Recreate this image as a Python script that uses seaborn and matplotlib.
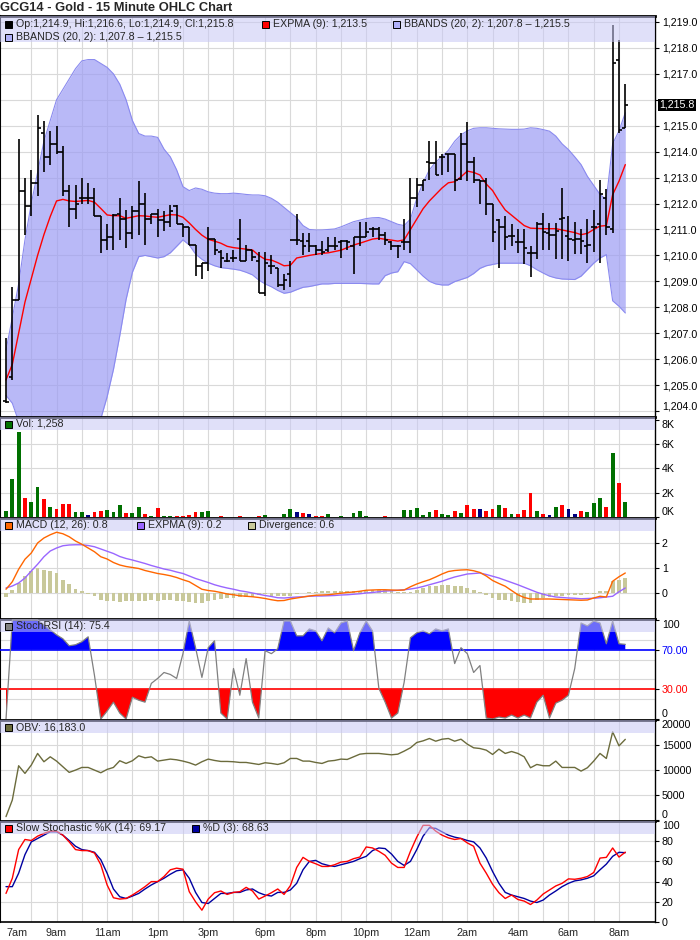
import numpy as np
import matplotlib
matplotlib.use("Agg")
import matplotlib.pyplot as plt
import matplotlib.transforms as mtransforms
from matplotlib.patches import Rectangle
import seaborn as sns

sns.set_style("white")
plt.rcParams['font.family'] = ['Liberation Sans', 'DejaVu Sans']

#--Price bars (15 minute OHLC)--#
opens = [1204.4, 1205.3, 1208.3, 1212.5, 1211.9, 1212.8, 1214.7, 1213.8, 1214.3, 1214.0,
         1212.5, 1211.8, 1212.2, 1212.2, 1212.2, 1211.5, 1210.6, 1210.7, 1211.6, 1211.4,
         1210.85, 1211.7, 1212.0, 1211.4, 1211.6, 1211.35, 1211.3, 1211.9, 1211.2, 1211.1,
         1210.4, 1209.6, 1209.7, 1210.65, 1210.15, 1209.8, 1209.9, 1210.65, 1209.8, 1210.2,
         1209.8, 1208.55, 1209.6, 1209.5, 1208.85, 1209.3, 1210.6, 1210.55, 1210.55, 1210.35,
         1210.2, 1210.2, 1210.35, 1210.5, 1210.55, 1210.35, 1210.7, 1210.7, 1211.0, 1211.0,
         1210.8, 1210.5, 1210.35, 1210.5, 1210.5, 1212.2, 1212.7, 1213.6, 1213.55, 1213.8,
         1213.9, 1213.9, 1212.95, 1214.3, 1213.6, 1212.9, 1212.85, 1212.0, 1211.35, 1211.1,
         1210.75, 1210.5, 1210.5, 1210.1, 1210.1, 1211.2, 1210.85, 1210.8, 1211.4, 1210.75,
         1210.6, 1210.65, 1210.35, 1211.1, 1211.2, 1212.2, 1211.0, 1217.55, 1214.9]
highs = [1206.8, 1208.8, 1214.5, 1213.0, 1213.3, 1215.4, 1215.2, 1214.8, 1215.0, 1214.2,
         1212.7, 1212.7, 1213.0, 1212.8, 1212.6, 1211.5, 1211.2, 1211.6, 1212.2, 1211.75,
         1211.9, 1212.85, 1212.4, 1211.6, 1211.8, 1211.7, 1211.95, 1211.95, 1211.2, 1211.1,
         1210.4, 1209.7, 1211.1, 1210.65, 1210.2, 1210.1, 1210.2, 1211.4, 1210.4, 1210.2,
         1210.15, 1210.15, 1210.0, 1209.5, 1209.3, 1209.8, 1211.6, 1210.85, 1210.85, 1210.4,
         1210.55, 1210.7, 1210.7, 1210.6, 1210.6, 1210.7, 1211.3, 1211.3, 1211.1, 1211.1,
         1210.9, 1210.55, 1210.4, 1211.4, 1213.0, 1213.0, 1212.9, 1214.4, 1214.4, 1213.9,
         1213.9, 1213.9, 1214.7, 1215.15, 1213.8, 1212.9, 1213.0, 1212.0, 1211.4, 1211.5,
         1211.2, 1211.0, 1211.0, 1210.35, 1211.3, 1211.65, 1211.25, 1211.25, 1212.6, 1211.5,
         1211.3, 1211.0, 1211.4, 1211.75, 1212.9, 1212.55, 1218.9, 1218.3, 1216.6]
lows = [1204.3, 1205.2, 1208.3, 1210.8, 1211.5, 1212.3, 1213.2, 1213.5, 1213.9, 1212.3,
        1211.1, 1211.4, 1212.0, 1212.0, 1211.5, 1210.1, 1210.2, 1210.2, 1210.6, 1210.3,
        1210.65, 1210.8, 1210.4, 1211.2, 1210.7, 1210.95, 1211.1, 1211.2, 1210.7, 1210.4,
        1209.2, 1209.1, 1209.4, 1210.0, 1209.5, 1209.75, 1209.75, 1209.8, 1209.8, 1209.8,
        1208.55, 1208.45, 1209.3, 1208.8, 1208.65, 1208.8, 1210.4, 1210.0, 1210.15, 1210.0,
        1210.0, 1210.15, 1210.2, 1209.9, 1210.2, 1209.3, 1210.35, 1210.7, 1210.7, 1210.6,
        1210.4, 1210.2, 1209.9, 1210.2, 1210.1, 1211.85, 1212.5, 1212.9, 1213.1, 1213.1,
        1213.2, 1212.5, 1212.9, 1212.85, 1212.8, 1212.0, 1211.55, 1210.5, 1209.5, 1210.2,
        1210.35, 1210.1, 1209.65, 1209.15, 1209.85, 1210.2, 1210.2, 1209.85, 1209.85, 1209.8,
        1210.05, 1210.05, 1209.7, 1210.15, 1209.7, 1210.8, 1210.85, 1214.7, 1214.9]
closes = [1204.35, 1208.3, 1212.5, 1211.9, 1212.8, 1214.9, 1213.8, 1214.3, 1214.0, 1212.5,
          1211.8, 1212.0, 1212.2, 1212.2, 1211.5, 1210.6, 1210.7, 1211.55, 1211.4, 1210.85,
          1211.7, 1212.0, 1211.4, 1211.6, 1211.35, 1211.3, 1211.7, 1211.2, 1211.1, 1210.4,
          1209.6, 1209.7, 1210.65, 1210.2, 1209.9, 1209.8, 1209.9, 1209.8, 1210.2, 1209.95,
          1208.55, 1209.7, 1209.6, 1208.85, 1209.05, 1210.6, 1210.6, 1210.35, 1210.35, 1210.2,
          1210.15, 1210.35, 1210.35, 1210.55, 1210.5, 1210.7, 1210.7, 1210.9, 1211.0, 1210.8,
          1210.6, 1210.35, 1210.35, 1210.5, 1212.2, 1212.7, 1212.9, 1213.55, 1213.1, 1213.8,
          1213.9, 1212.9, 1214.3, 1213.6, 1212.9, 1212.85, 1212.0, 1210.9, 1211.1, 1210.7,
          1210.75, 1210.5, 1210.3, 1210.1, 1211.2, 1210.9, 1210.8, 1210.95, 1211.45, 1210.65,
          1210.65, 1210.55, 1210.4, 1211.1, 1212.35, 1211.1, 1217.4, 1214.85, 1215.8]

#--Overlays--#
expma = [1205.2, 1205.8, 1207.0, 1208.2, 1209.1, 1210.0, 1210.8, 1211.5, 1212.1, 1212.16,
         1212.1, 1212.08, 1212.1, 1212.12, 1212.05, 1211.81, 1211.56, 1211.53, 1211.53, 1211.43,
         1211.48, 1211.53, 1211.52, 1211.49, 1211.47, 1211.52, 1211.57, 1211.56, 1211.47, 1211.25,
         1211.0, 1210.78, 1210.62, 1210.55, 1210.47, 1210.35, 1210.3, 1210.27, 1210.24, 1210.21,
         1210.0, 1209.85, 1209.82, 1209.72, 1209.6, 1209.62, 1209.9, 1209.95, 1210.0, 1210.04,
         1210.08, 1210.1, 1210.15, 1210.2, 1210.3, 1210.4, 1210.47, 1210.55, 1210.63, 1210.66,
         1210.62, 1210.59, 1210.55, 1210.6, 1211.0, 1211.4, 1211.8, 1212.1, 1212.35, 1212.6,
         1212.8, 1212.84, 1213.03, 1213.25, 1213.2, 1213.1, 1212.75, 1212.5, 1212.1, 1211.75,
         1211.55, 1211.35, 1211.15, 1211.05, 1211.04, 1211.03, 1211.03, 1211.03, 1210.98, 1210.93,
         1210.88, 1210.8, 1210.85, 1211.0, 1211.13, 1211.15, 1212.34, 1212.86, 1213.5]
bb_upper = [1206.35, 1207.6, 1208.9, 1210.6, 1212.0, 1213.2, 1214.4, 1215.2, 1216.0, 1216.4,
            1216.8, 1217.2, 1217.5, 1217.55, 1217.55, 1217.4, 1217.25, 1217.0, 1216.6, 1216.0,
            1215.2, 1214.7, 1214.6, 1214.6, 1214.55, 1214.1, 1213.8, 1213.3, 1212.65, 1212.5,
            1212.6, 1212.55, 1212.45, 1212.4, 1212.38, 1212.38, 1212.4, 1212.38, 1212.35, 1212.33,
            1212.33, 1212.3, 1212.2, 1212.05, 1211.85, 1211.65, 1211.45, 1211.15, 1211.0, 1210.98,
            1210.98, 1211.0, 1211.02, 1211.1, 1211.2, 1211.3, 1211.36, 1211.42, 1211.45, 1211.46,
            1211.4, 1211.3, 1211.2, 1211.15, 1211.4, 1212.2, 1212.8, 1213.3, 1213.6, 1213.81,
            1214.05, 1214.4, 1214.65, 1214.8, 1214.9, 1214.92, 1214.92, 1214.9, 1214.88, 1214.87,
            1214.86, 1214.86, 1214.87, 1214.92, 1214.9, 1214.85, 1214.79, 1214.6, 1214.3, 1214.08,
            1213.8, 1213.5, 1213.05, 1212.7, 1212.35, 1212.15, 1214.3, 1214.8, 1215.5]
bb_lower = [1204.6, 1204.3, 1203.6, 1203.0, 1202.6, 1202.3, 1202.0, 1201.9, 1201.8, 1201.8,
            1201.9, 1202.1, 1202.5, 1202.9, 1203.3, 1203.7, 1204.55, 1205.6, 1206.9, 1208.3,
            1209.35, 1209.95, 1210.0, 1209.95, 1209.9, 1209.95, 1210.1, 1210.35, 1210.6, 1210.4,
            1210.05, 1209.85, 1209.7, 1209.6, 1209.53, 1209.5, 1209.47, 1209.43, 1209.35, 1209.25,
            1209.05, 1208.9, 1208.79, 1208.65, 1208.54, 1208.58, 1208.68, 1208.77, 1208.8, 1208.85,
            1208.9, 1208.9, 1208.92, 1208.92, 1208.92, 1208.92, 1208.92, 1208.91, 1208.9, 1208.9,
            1209.22, 1209.32, 1209.37, 1209.76, 1209.68, 1209.44, 1209.2, 1209.0, 1208.9, 1208.86,
            1208.86, 1208.99, 1209.07, 1209.15, 1209.3, 1209.5, 1209.6, 1209.65, 1209.7, 1209.7,
            1209.7, 1209.7, 1209.7, 1209.6, 1209.45, 1209.32, 1209.2, 1209.13, 1209.09, 1209.08,
            1209.07, 1209.2, 1209.45, 1209.7, 1209.9, 1210.03, 1208.25, 1208.04, 1207.78]

#--Volume in thousands, g=up r=down b=unchanged--#
volume_k = [0.49, 3.1, 7.0, 1.54, 1.2, 2.5, 1.46, 0.8, 0.65, 1.05,
            1.05, 0.4, 0.4, 0.2, 0.4, 0.5, 0.55, 0.4, 0.97, 0.35,
            0.35, 0.8, 0.25, 0.05, 0.73, 0.1, 0.05, 0.05, 0.12, 0.17,
            0.38, 0.38, 0.46, 0.03, 0.1, 0.03, 0.03, 0.12, 0.03, 0.03,
            0.12, 0.17, 0.03, 0.03, 0.27, 0.62, 0.4, 0.35, 0.27, 0.12,
            0.12, 0.25, 0.03, 0.1, 0.03, 0.35, 0.49, 0.1, 0.03, 0.03,
            0.1, 0.03, 0.03, 0.57, 0.57, 0.73, 0.2, 0.38, 0.57, 0.22,
            0.2, 0.46, 0.32, 0.97, 0.65, 0.65, 0.49, 0.62, 0.97, 0.78,
            0.27, 0.25, 0.57, 1.95, 0.46, 0.25, 0.17, 0.8, 1.03, 0.65,
            0.25, 0.49, 0.4, 1.13, 1.54, 0.84, 5.27, 2.76, 1.26]
volume_dir = ("gggrggrgrr" "rggbrrgggr" "ggrgrggrrr" "rgggrgrrgr" "rgrgggbrbr"
              "rgrgggggrg" "rgrgggggrg" "grgrrbrrgr" "grrrgrbgrb" "brgggrgrg")

#--MACD (12, 26)--#
macd = [0.15, 0.45, 0.95, 1.35, 1.6, 2.0, 2.2, 2.33, 2.43, 2.37,
        2.25, 2.08, 1.95, 1.8, 1.65, 1.45, 1.36, 1.22, 1.12, 1.06,
        1.02, 0.98, 0.9, 0.84, 0.78, 0.74, 0.69, 0.62, 0.53, 0.45,
        0.3, 0.15, 0.1, 0.07, 0.02, -0.04, -0.07, -0.11, -0.13, -0.15,
        -0.18, -0.22, -0.27, -0.31, -0.3, -0.24, -0.2, -0.16, -0.12, -0.09,
        -0.08, -0.07, -0.04, -0.01, 0.02, 0.04, 0.07, 0.11, 0.12, 0.13,
        0.13, 0.12, 0.11, 0.12, 0.25, 0.36, 0.45, 0.53, 0.64, 0.76,
        0.86, 0.9, 0.92, 0.93, 0.89, 0.82, 0.68, 0.5, 0.38, 0.27,
        0.1, -0.07, -0.18, -0.24, -0.24, -0.24, -0.24, -0.25, -0.26, -0.27,
        -0.28, -0.29, -0.28, -0.2, -0.13, -0.16, 0.47, 0.65, 0.8]
macd_signal = [0.2, 0.28, 0.4, 0.6, 0.88, 1.15, 1.45, 1.68, 1.8, 1.89,
               1.92, 1.93, 1.93, 1.9, 1.85, 1.76, 1.67, 1.58, 1.46, 1.38,
               1.32, 1.25, 1.18, 1.1, 1.03, 0.96, 0.91, 0.84, 0.78, 0.68,
               0.58, 0.5, 0.42, 0.33, 0.26, 0.2, 0.15, 0.09, 0.05, 0.0,
               -0.05, -0.1, -0.14, -0.19, -0.2, -0.18, -0.16, -0.15, -0.13, -0.12,
               -0.12, -0.11, -0.1, -0.08, -0.07, -0.05, -0.03, 0.0, 0.02, 0.05,
               0.08, 0.09, 0.11, 0.13, 0.16, 0.2, 0.26, 0.33, 0.4, 0.47,
               0.56, 0.64, 0.7, 0.76, 0.78, 0.8, 0.74, 0.67, 0.6, 0.51,
               0.42, 0.33, 0.23, 0.13, 0.03, -0.05, -0.11, -0.16, -0.18, -0.2,
               -0.21, -0.23, -0.22, -0.21, -0.19, -0.16, -0.13, 0.05, 0.2]
divergence = [-0.15, 0.13, 0.4, 0.67, 0.87, 1.0, 0.93, 0.87, 0.8, 0.53,
              0.37, 0.16, 0.1, -0.05, -0.13, -0.27, -0.33, -0.33, -0.37, -0.33,
              -0.33, -0.33, -0.3, -0.27, -0.3, -0.27, -0.27, -0.3, -0.33, -0.35,
              -0.4, -0.4, -0.33, -0.27, -0.23, -0.2, -0.2, -0.16, -0.16, -0.16,
              -0.07, -0.05, -0.1, -0.13, -0.13, -0.1, -0.04, 0.0, 0.04, 0.05,
              0.07, 0.07, 0.07, 0.07, 0.07, 0.08, 0.07, 0.1, 0.13, 0.13,
              0.11, 0.07, 0.05, 0.03, 0.05, 0.13, 0.2, 0.27, 0.3, 0.33,
              0.33, 0.27, 0.27, 0.2, 0.13, 0.05, -0.07, -0.2, -0.27, -0.27,
              -0.33, -0.37, -0.4, -0.4, -0.27, -0.2, -0.17, -0.13, -0.1, -0.07,
              -0.07, -0.07, -0.05, -0.03, 0.07, 0.07, 0.47, 0.53, 0.6]

#--StochRSI (14)--#
stoch_rsi = [0, 100, 100, 100, 100, 100, 95, 90, 85, 81,
             74, 75, 78, 83, 44, 0, 8, 17, 6, 0,
             22, 19, 17, 36, 41, 47, 45, 41, 66, 99,
             72, 42, 72, 79, 6, 0, 51, 24, 61, 17,
             1, 69, 66, 71, 99, 99, 84, 84, 91, 89,
             79, 92, 87, 97, 99, 69, 87, 99, 89, 31,
             17, 1, 6, 37, 82, 87, 89, 86, 91, 89,
             91, 56, 72, 66, 47, 54, 1, 0, 2, 1,
             4, 1, 4, 1, 17, 24, 1, 16, 19, 24,
             51, 97, 94, 99, 97, 76, 99, 76, 75.4]

#--On balance volume--#
obv = [730, 4050, 10900, 9370, 11030, 13360, 11700, 12690, 11830, 10700,
       9570, 10030, 10560, 10560, 10030, 9500, 10170, 10560, 11900, 11360,
       11900, 12890, 12490, 12690, 11830, 12030, 12230, 12090, 11830, 11500,
       11030, 11700, 12230, 11960, 11760, 11760, 11700, 11560, 11560, 11360,
       11160, 11500, 11360, 11160, 11500, 12360, 12360, 11830, 11830, 11560,
       11360, 11830, 11960, 12230, 12160, 12690, 13220, 13360, 13360, 13360,
       13220, 13090, 13220, 13820, 14490, 15550, 15880, 16350, 15810, 16210,
       16350, 15810, 16210, 15220, 14490, 14350, 14020, 13160, 14220, 13360,
       13750, 13360, 12690, 10500, 11160, 10900, 10900, 11830, 10560, 10560,
       10560, 9830, 10500, 11830, 13360, 12360, 17670, 14880, 16183]

#--Slow stochastic--#
pct_k = [28.3, 43.3, 71.7, 81.7, 80.7, 85.0, 87.7, 90.0, 90.0, 86.0,
         79.3, 71.7, 70.7, 70.7, 68.3, 56.7, 36.7, 24.0, 22.7, 23.3,
         26.7, 30.7, 35.0, 40.0, 40.0, 45.0, 51.7, 53.3, 52.3, 30.0,
         20.0, 11.7, 22.7, 29.0, 30.7, 27.3, 29.3, 30.0, 34.3, 30.7,
         22.7, 25.7, 29.0, 32.7, 27.3, 36.0, 54.0, 64.0, 60.0, 57.7,
         55.0, 55.0, 56.7, 59.3, 60.0, 62.7, 64.3, 74.3, 73.3, 70.0,
         66.0, 58.3, 54.0, 54.0, 70.0, 84.0, 95.7, 95.7, 90.0, 86.0,
         83.3, 81.7, 82.7, 78.3, 75.0, 58.3, 48.3, 37.3, 29.0, 23.3,
         26.7, 22.3, 20.7, 17.3, 21.7, 27.7, 31.7, 35.7, 38.3, 42.7,
         42.3, 43.3, 45.0, 49.0, 63.3, 64.0, 73.3, 64.3, 69.17]
pct_d = [35.0, 35.0, 48.3, 66.7, 79.3, 82.7, 86.0, 89.3, 89.3, 86.0,
         80.7, 75.0, 71.7, 70.7, 69.0, 61.7, 48.3, 32.7, 25.0, 23.3,
         25.7, 28.3, 32.7, 36.7, 40.0, 43.3, 47.3, 50.7, 51.7, 43.3,
         29.3, 19.3, 18.3, 23.3, 28.3, 28.3, 29.3, 29.3, 31.7, 32.7,
         29.0, 26.7, 25.7, 29.3, 29.3, 31.7, 38.3, 51.7, 60.0, 61.0,
         57.7, 56.0, 55.0, 56.7, 58.3, 60.0, 62.7, 65.0, 70.7, 73.3,
         72.7, 67.3, 60.0, 56.0, 60.0, 71.7, 85.0, 93.3, 92.7, 89.3,
         86.0, 84.0, 82.7, 80.7, 79.3, 73.3, 63.3, 50.0, 38.3, 29.3,
         26.7, 25.0, 23.3, 20.7, 19.3, 21.7, 26.7, 30.7, 35.0, 38.3,
         40.7, 41.7, 43.3, 45.7, 51.7, 57.3, 65.0, 69.0, 68.63]

#--Time axis--#
time_ticks = [0, 8, 16, 24, 32, 41, 49, 57, 65, 73, 81, 89, 97]
time_labels = ['7am', '9am', '11am', '1pm', '3pm', '6pm', '8pm', '10pm',
               '12am', '2am', '4am', '6am', '8am']
hour_lines = list(range(4, 37, 4)) + list(range(41, 98, 4))

bars = np.arange(len(closes))
GRID = '#d9d9d9'
BAND = '#c8c8f5'
FW, FH = 700, 940
TICK_FS = 7.7
LEG_FS = 7.7

fig = plt.figure(figsize=(7, 9.4), dpi=100)


def make_panel(top, bottom, band_px=13):
    ax = fig.add_axes([0, 1 - bottom / FH, 655 / FW, (bottom - top) / FH])
    ax.set_xlim(-0.95, 102.7)
    ax.set_xticks([])
    for gx in hour_lines:
        ax.axvline(gx, color=GRID, lw=0.8, zorder=0)
    ax.yaxis.tick_right()
    ax.tick_params(axis='y', direction='out', length=3, width=0.8,
                   labelsize=TICK_FS, pad=2, colors='black')
    ax.spines['top'].set_linewidth(2)
    ax.spines['left'].set_linewidth(1.5)
    ax.spines['right'].set_linewidth(1)
    ax.spines['bottom'].set_visible(False)
    for s in ['top', 'left', 'right']:
        ax.spines[s].set_color('black')
    # lavender header strip
    h = band_px / (bottom - top)
    ax.add_patch(Rectangle((0, 1 - h), 1, h, transform=ax.transAxes,
                           facecolor=BAND, alpha=0.55, lw=0, zorder=8))
    return ax


def hgrid(ax, levels):
    for gy in levels:
        ax.axhline(gy, color=GRID, lw=0.8, zorder=0)


def edge_labels(ax, top=False, bottom=False):
    # keep labels that sit on a panel boundary inside their own panel
    labs = ax.get_yticklabels()
    if top:
        labs[-1].set_verticalalignment('top')
    if bottom:
        labs[0].set_verticalalignment('bottom')


def legend_item(x, y, color, text):
    fig.add_artist(Rectangle((x / FW, 1 - (y + 3.5) / FH), 7 / FW, 7 / FH,
                             transform=fig.transFigure, facecolor=color,
                             edgecolor='black', lw=0.7, zorder=20))
    fig.text((x + 11) / FW, 1 - y / FH, text, fontsize=LEG_FS, va='center',
             ha='left', zorder=21)


#--Main price panel--#
ax = make_panel(16, 417, band_px=26)
ax.set_ylim(1203.77, 1219.23)
price_ticks = np.arange(1204, 1220, 1.0)
ax.set_yticks(price_ticks)
ax.set_yticklabels(['' if p == 1216 else f"{p:,.1f}" for p in price_ticks])
edge_labels(ax, bottom=True)
hgrid(ax, price_ticks)
ax.fill_between(bars, bb_lower, bb_upper, color='#9c9cf4', alpha=0.7, lw=0, zorder=1)
sns.lineplot(x=bars, y=bb_upper, ax=ax, color='#8a8aef', lw=0.8, zorder=2)
sns.lineplot(x=bars, y=bb_lower, ax=ax, color='#8a8aef', lw=0.8, zorder=2)
sns.lineplot(x=bars, y=expma, ax=ax, color='#ff0000', lw=1.0, zorder=3)
ax.vlines(bars, lows, highs, color='black', lw=1.2, zorder=4)
ax.hlines(opens, bars - 0.5, bars, color='black', lw=1.2, zorder=4)
ax.hlines(closes, bars, bars + 0.5, color='black', lw=1.2, zorder=4)
ax.set_ylabel('')
trans = mtransforms.blended_transform_factory(ax.transAxes, ax.transData)
ax.text(1.006, closes[-1], f"{closes[-1]:,.1f}", transform=trans, fontsize=TICK_FS,
        color='white', va='center', ha='left', zorder=30,
        bbox=dict(boxstyle='square,pad=0.12', fc='black', ec='none'))
fig.text(0, 1 - 8 / FH, 'GCG14 - Gold - 15 Minute OHLC Chart', fontsize=9.3,
         fontweight='bold', va='center', ha='left')
legend_item(5, 24, 'black', 'Op:1,214.9, Hi:1,216.6, Lo:1,214.9, Cl:1,215.8')
legend_item(262, 24, '#ff0000', 'EXPMA (9): 1,213.5')
legend_item(393, 24, '#b0b0f8', 'BBANDS (20, 2): 1,207.8 \u2013 1,215.5')
legend_item(5, 37, '#b0b0f8', 'BBANDS (20, 2): 1,207.8 \u2013 1,215.5')

#--Volume panel--#
ax = make_panel(417, 518)
ax.set_ylim(-0.08, 8.23)
ax.set_yticks([0, 2, 4, 6, 8])
ax.set_yticklabels(['0K', '2K', '4K', '6K', '8K'])
edge_labels(ax, top=True, bottom=True)
hgrid(ax, [2, 4, 6])
dir_colors = {'g': '#007000', 'r': '#ff0000', 'b': '#000080'}
ax.bar(bars, volume_k, width=0.6, color=[dir_colors[d] for d in volume_dir],
       lw=0, zorder=3)
legend_item(5, 424, '#007000', 'Vol: 1,258')

#--MACD panel--#
ax = make_panel(518, 619)
ax.set_ylim(-1.04, 3.0)
ax.set_yticks([0, 1, 2])
ax.set_yticklabels(['0', '1', '2'])
hgrid(ax, [0, 1, 2])
ax.bar(bars, divergence, width=0.6, color='#c8c89a', lw=0, zorder=2)
sns.lineplot(x=bars, y=macd_signal, ax=ax, color='#9966ff', lw=1.0, zorder=3)
sns.lineplot(x=bars, y=macd, ax=ax, color='#ff6600', lw=1.0, zorder=4)
ax.set_ylabel('')
legend_item(5, 525, '#ff6600', 'MACD (12, 26): 0.8')
legend_item(137, 525, '#9966ff', 'EXPMA (9): 0.2')
legend_item(248, 525, '#c8c89a', 'Divergence: 0.6')

#--StochRSI panel--#
ax = make_panel(619, 720)
ax.set_ylim(-1, 101)
ax.set_yticks([0, 30, 70, 100])
ax.set_yticklabels(['0', '30.00', '70.00', '100'])
for lab, c in zip(ax.get_yticklabels(), ['black', '#ff0000', '#0000ff', 'black']):
    lab.set_color(c)
edge_labels(ax, top=True, bottom=True)
hgrid(ax, [20, 40, 60, 80])
rsi = np.array(stoch_rsi)
ax.fill_between(bars, rsi, 70, where=rsi >= 70, interpolate=True, color='#0000ff', lw=0, zorder=2)
ax.fill_between(bars, rsi, 30, where=rsi <= 30, interpolate=True, color='#ff0000', lw=0, zorder=2)
ax.axhline(70, color='#0000ff', lw=1.2, zorder=3)
ax.axhline(30, color='#ff0000', lw=1.2, zorder=3)
sns.lineplot(x=bars, y=stoch_rsi, ax=ax, color='#808080', lw=0.9, zorder=4)
ax.set_ylabel('')
legend_item(5, 626, '#808080', 'StochRSI (14): 75.4')

#--OBV panel--#
ax = make_panel(720, 821)
ax.set_ylim(-150, 20050)
ax.set_yticks([0, 5000, 10000, 15000, 20000])
ax.set_yticklabels(['0', '5000', '10000', '15000', '20000'])
edge_labels(ax, top=True, bottom=True)
hgrid(ax, [5000, 10000, 15000])
sns.lineplot(x=bars, y=obv, ax=ax, color='#6b6b3c', lw=1.0, zorder=3)
ax.set_ylabel('')
legend_item(5, 727, '#6b6b3c', 'OBV: 16,183.0')

#--Slow stochastic panel--#
ax = make_panel(821, 922)
ax.set_ylim(0, 100)
ax.set_yticks([0, 20, 40, 60, 80, 100])
ax.set_yticklabels(['0', '20', '40', '60', '80', '100'])
edge_labels(ax, top=True)
hgrid(ax, [20, 40, 60, 80])
sns.lineplot(x=bars, y=pct_d, ax=ax, color='#0000a0', lw=1.0, zorder=3)
sns.lineplot(x=bars, y=pct_k, ax=ax, color='#ff0000', lw=1.0, zorder=4)
ax.set_ylabel('')
ax.spines['bottom'].set_visible(True)
ax.spines['bottom'].set_color('black')
ax.spines['bottom'].set_linewidth(1.2)
ax.set_xticks(time_ticks)
ax.set_xticklabels(time_labels, fontsize=7.8)
ax.get_xticklabels()[0].set_horizontalalignment('left')
ax.tick_params(axis='x', length=0, pad=4, labelbottom=True)
legend_item(5, 828, '#ff0000', 'Slow Stochastic %K (14): 69.17')
legend_item(192, 828, '#0000a0', '%D (3): 68.63')

fig.savefig('out.png', dpi=100)
